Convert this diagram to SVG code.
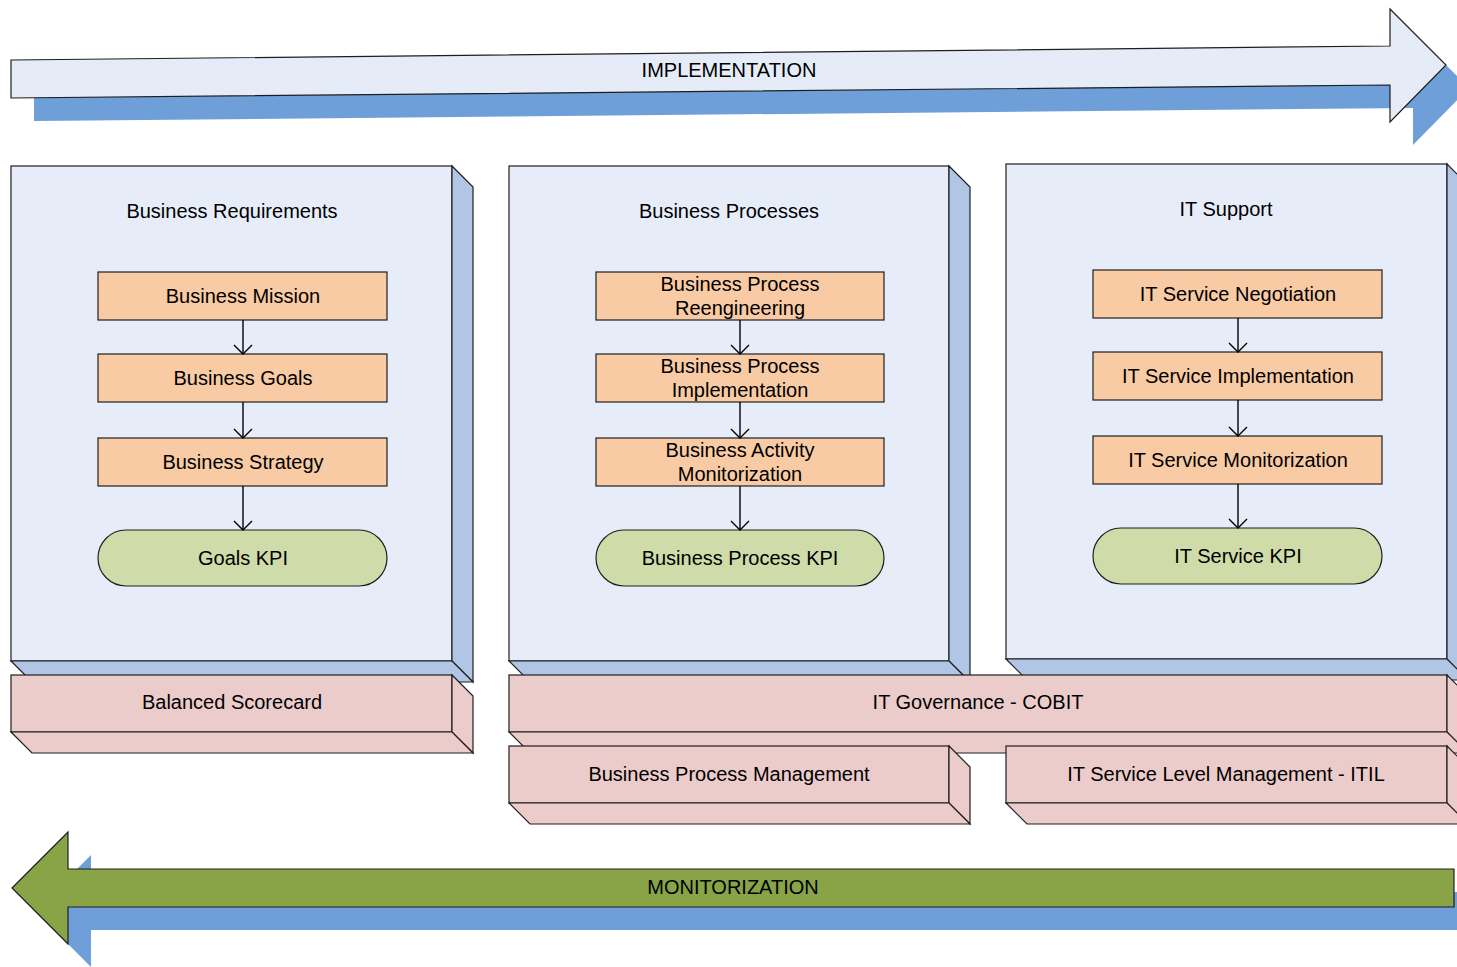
<svg xmlns="http://www.w3.org/2000/svg" width="1457" height="967" viewBox="0 0 1457 967">
  <defs>
    <style>
      text { font-family: "Liberation Sans", Arial, sans-serif; font-size: 20px; fill: #000; text-anchor: middle; }
      .edge { stroke: #1e1e1e; stroke-width: 1.2; stroke-linejoin: miter; }
      .front { fill: #e6edf8; }
      .depth { fill: #b1c5e4; }
      .pink { fill: #eccccb; }
      .step { fill: #f9cba4; stroke: #1e1e1e; stroke-width: 1.2; }
      .kpi { fill: #cfdca9; stroke: #1e1e1e; stroke-width: 1.2; }
      .shadow { fill: #6f9fd9; }
      .link { stroke: #000; stroke-width: 1.4; fill: none; }
    </style>
    <marker id="open-arrow" viewBox="-11 -11 13 22" markerWidth="13" markerHeight="22" refX="0" refY="0" orient="auto" markerUnits="userSpaceOnUse">
      <path d="M-9,-9 L0,0 L-9,9" fill="none" stroke="#000" stroke-width="1.4"/>
    </marker>
  </defs>

  <rect width="1457" height="967" fill="#ffffff"/>

  <!-- Implementation arrow (top) -->
  <g id="implementation-arrow">
    <polygon class="shadow" points="34,83 1413,69 1413,32 1469,88 1413,145 1413,108 34,121"/>
    <polygon class="edge" fill="#e5ecf7" points="11,60 1390,46 1390,9 1446,65 1390,122 1390,85 11,98"/>
    <text x="729" y="77">IMPLEMENTATION</text>
  </g>

  <!-- Column 1: Business Requirements -->
  <g id="panel-business-requirements">
    <rect class="front edge" x="11" y="166" width="441" height="495"/>
    <polygon class="depth edge" points="452,166 473,187 473,682 452,661"/>
    <polygon class="depth edge" points="11,661 452,661 473,682 32,682"/>
    <text x="232" y="218">Business Requirements</text>
  </g>

  <!-- Column 2: Business Processes -->
  <g id="panel-business-processes">
    <rect class="front edge" x="509" y="166" width="440" height="495"/>
    <polygon class="depth edge" points="949,166 970,187 970,682 949,661"/>
    <polygon class="depth edge" points="509,661 949,661 970,682 530,682"/>
    <text x="729" y="218">Business Processes</text>
  </g>

  <!-- Column 3: IT Support -->
  <g id="panel-it-support">
    <rect class="front edge" x="1006" y="164" width="441" height="495"/>
    <polygon class="depth edge" points="1447,164 1468,185 1468,680 1447,659"/>
    <polygon class="depth edge" points="1006,659 1447,659 1468,680 1027,680"/>
    <text x="1226" y="216">IT Support</text>
  </g>

  <!-- Steps, column 1 -->
  <g id="business-mission">
    <rect class="step" x="98" y="272" width="289" height="48"/>
    <text x="243" y="303">Business Mission</text>
  </g>
  <g id="business-goals">
    <rect class="step" x="98" y="354" width="289" height="48"/>
    <text x="243" y="385">Business Goals</text>
  </g>
  <g id="business-strategy">
    <rect class="step" x="98" y="438" width="289" height="48"/>
    <text x="243" y="469">Business Strategy</text>
  </g>
  <g id="goals-kpi">
    <rect class="kpi" x="98" y="530" width="289" height="56" rx="28" ry="28"/>
    <text x="243" y="565">Goals KPI</text>
  </g>

  <!-- Steps, column 2 -->
  <g id="bp-reengineering">
    <rect class="step" x="596" y="272" width="288" height="48"/>
    <text x="740" y="291">Business Process</text>
    <text x="740" y="315">Reengineering</text>
  </g>
  <g id="bp-implementation">
    <rect class="step" x="596" y="354" width="288" height="48"/>
    <text x="740" y="373">Business Process</text>
    <text x="740" y="397">Implementation</text>
  </g>
  <g id="ba-monitorization">
    <rect class="step" x="596" y="438" width="288" height="48"/>
    <text x="740" y="457">Business Activity</text>
    <text x="740" y="481">Monitorization</text>
  </g>
  <g id="bp-kpi">
    <rect class="kpi" x="596" y="530" width="288" height="56" rx="28" ry="28"/>
    <text x="740" y="565">Business Process KPI</text>
  </g>

  <!-- Steps, column 3 -->
  <g id="it-service-negotiation">
    <rect class="step" x="1093" y="270" width="289" height="48"/>
    <text x="1238" y="301">IT Service Negotiation</text>
  </g>
  <g id="it-service-implementation">
    <rect class="step" x="1093" y="352" width="289" height="48"/>
    <text x="1238" y="383">IT Service Implementation</text>
  </g>
  <g id="it-service-monitorization">
    <rect class="step" x="1093" y="436" width="289" height="48"/>
    <text x="1238" y="467">IT Service Monitorization</text>
  </g>
  <g id="it-service-kpi">
    <rect class="kpi" x="1093" y="528" width="289" height="56" rx="28" ry="28"/>
    <text x="1238" y="563">IT Service KPI</text>
  </g>

  <!-- Flow between steps -->
  <g id="connectors">
    <line class="link" x1="243" y1="320" x2="243" y2="354" marker-end="url(#open-arrow)"/>
    <line class="link" x1="243" y1="402" x2="243" y2="438" marker-end="url(#open-arrow)"/>
    <line class="link" x1="243" y1="486" x2="243" y2="530" marker-end="url(#open-arrow)"/>
    <line class="link" x1="740" y1="320" x2="740" y2="354" marker-end="url(#open-arrow)"/>
    <line class="link" x1="740" y1="402" x2="740" y2="438" marker-end="url(#open-arrow)"/>
    <line class="link" x1="740" y1="486" x2="740" y2="530" marker-end="url(#open-arrow)"/>
    <line class="link" x1="1238" y1="318" x2="1238" y2="352" marker-end="url(#open-arrow)"/>
    <line class="link" x1="1238" y1="400" x2="1238" y2="436" marker-end="url(#open-arrow)"/>
    <line class="link" x1="1238" y1="484" x2="1238" y2="528" marker-end="url(#open-arrow)"/>
  </g>

  <!-- Frameworks -->
  <g id="balanced-scorecard">
    <rect class="pink edge" x="11" y="675" width="441" height="57"/>
    <polygon class="pink edge" points="452,675 473,696 473,753 452,732"/>
    <polygon class="pink edge" points="11,732 452,732 473,753 32,753"/>
    <text x="232" y="709">Balanced Scorecard</text>
  </g>
  <g id="it-governance-cobit">
    <rect class="pink edge" x="509" y="675" width="938" height="57"/>
    <polygon class="pink edge" points="1447,675 1468,696 1468,753 1447,732"/>
    <polygon class="pink edge" points="509,732 1447,732 1468,753 530,753"/>
    <text x="978" y="709">IT Governance - COBIT</text>
  </g>
  <g id="business-process-management">
    <rect class="pink edge" x="509" y="746" width="440" height="57"/>
    <polygon class="pink edge" points="949,746 970,767 970,824 949,803"/>
    <polygon class="pink edge" points="509,803 949,803 970,824 530,824"/>
    <text x="729" y="781">Business Process Management</text>
  </g>
  <g id="it-service-level-management">
    <rect class="pink edge" x="1006" y="746" width="441" height="57"/>
    <polygon class="pink edge" points="1447,746 1468,767 1468,824 1447,803"/>
    <polygon class="pink edge" points="1006,803 1447,803 1468,824 1027,824"/>
    <text x="1226" y="781">IT Service Level Management - ITIL</text>
  </g>

  <!-- Monitorization arrow (bottom) -->
  <g id="monitorization-arrow">
    <polygon class="shadow" points="35,911 91,855 91,892 1477,892 1477,930 91,930 91,967"/>
    <polygon class="edge" fill="#88a446" points="12,888 68,832 68,869 1454,869 1454,907 68,907 68,944"/>
    <text x="733" y="894">MONITORIZATION</text>
  </g>
</svg>
